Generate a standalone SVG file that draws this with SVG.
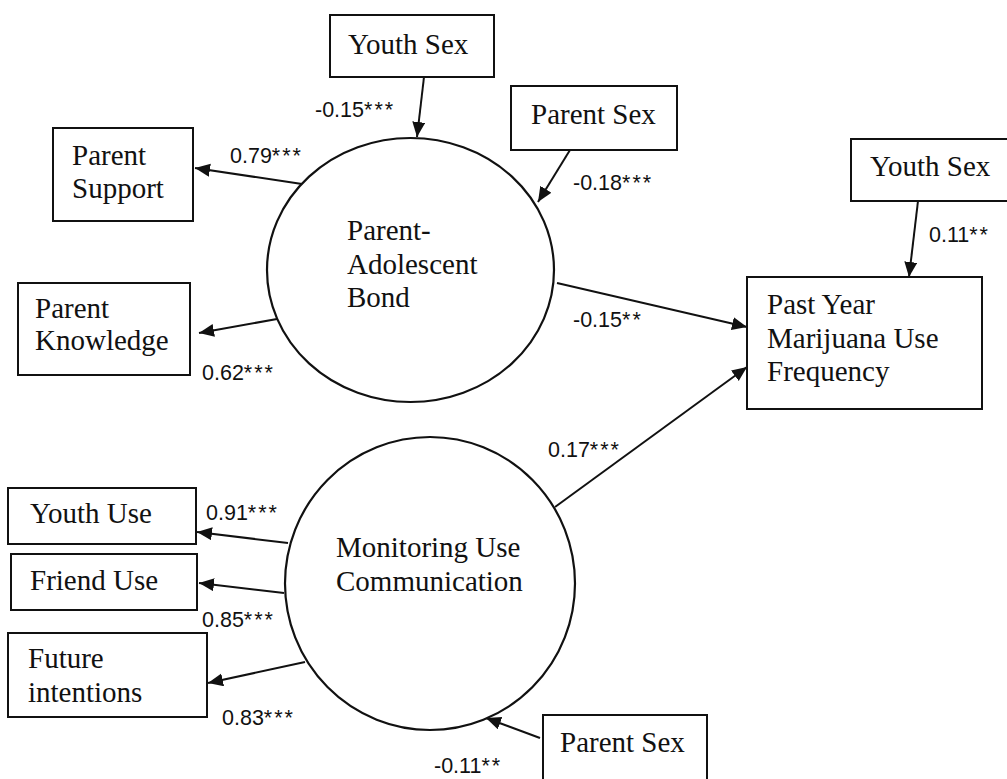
<svg xmlns="http://www.w3.org/2000/svg" width="1007" height="779" viewBox="0 0 1007 779">
  <style>
    .box { fill: #fff; stroke: #111; stroke-width: 2; }
    .latent { fill: #fff; stroke: #111; stroke-width: 2.2; }
    .name { font-family: "Liberation Serif", "Times New Roman", serif; font-size: 29px; fill: #111; }
    .coef { font-family: "Liberation Sans", Arial, sans-serif; font-size: 21.5px; fill: #111; }
    .stars { letter-spacing: 2px; }
    .path { stroke: #111; stroke-width: 2; fill: none; marker-end: url(#head); }
  </style>
  <defs>
    <marker id="head" markerUnits="userSpaceOnUse" markerWidth="16" markerHeight="14" refX="15" refY="6.5" orient="auto">
      <path d="M0,0 L15,6.5 L0,13 Z" fill="#111"/>
    </marker>
  </defs>
  <rect width="1007" height="779" fill="#fff"/>

  <!-- paths between variables -->
  <g id="connectors">
    <line class="path" x1="424" y1="77" x2="417" y2="137"/>
    <line class="path" x1="570" y1="150" x2="538" y2="202"/>
    <line class="path" x1="302" y1="184" x2="195" y2="168"/>
    <line class="path" x1="277" y1="319" x2="199" y2="333"/>
    <line class="path" x1="918" y1="201" x2="909" y2="277"/>
    <line class="path" x1="557" y1="283" x2="747" y2="327"/>
    <line class="path" x1="555" y1="507" x2="747" y2="367"/>
    <line class="path" x1="288" y1="543" x2="197" y2="532"/>
    <line class="path" x1="284" y1="593" x2="199" y2="583"/>
    <line class="path" x1="305" y1="662" x2="208" y2="683"/>
    <line class="path" x1="540" y1="738" x2="486" y2="718"/>
  </g>

  <!-- path coefficients -->
  <g id="coefficients">
    <text class="coef" x="315" y="117">-0.15<tspan class="stars">***</tspan></text>
    <text class="coef" x="573" y="190">-0.18<tspan class="stars">***</tspan></text>
    <text class="coef" x="230" y="163">0.79<tspan class="stars">***</tspan></text>
    <text class="coef" x="202" y="380">0.62<tspan class="stars">***</tspan></text>
    <text class="coef" x="929" y="242">0.11<tspan class="stars">**</tspan></text>
    <text class="coef" x="573" y="327">-0.15<tspan class="stars">**</tspan></text>
    <text class="coef" x="548" y="457">0.17<tspan class="stars">***</tspan></text>
    <text class="coef" x="206" y="520">0.91<tspan class="stars">***</tspan></text>
    <text class="coef" x="202" y="627">0.85<tspan class="stars">***</tspan></text>
    <text class="coef" x="222" y="725">0.83<tspan class="stars">***</tspan></text>
    <text class="coef" x="434" y="773">-0.11<tspan class="stars">**</tspan></text>
  </g>

  <g id="youth-sex-top">
    <rect class="box" x="330" y="15" width="164" height="62"/>
    <text class="name" x="348" y="54">Youth Sex</text>
  </g>

  <g id="parent-sex-top">
    <rect class="box" x="511" y="86" width="166" height="64"/>
    <text class="name" x="531" y="124">Parent Sex</text>
  </g>

  <g id="parent-support">
    <rect class="box" x="53" y="128" width="140" height="93"/>
    <text class="name" x="72" y="165">Parent</text>
    <text class="name" x="72" y="198">Support</text>
  </g>

  <g id="parent-knowledge">
    <rect class="box" x="18" y="283" width="172" height="92"/>
    <text class="name" x="35" y="318">Parent</text>
    <text class="name" x="35" y="350">Knowledge</text>
  </g>

  <g id="parent-adolescent-bond">
    <ellipse class="latent" cx="410.5" cy="270" rx="143.5" ry="132"/>
    <text class="name" x="347" y="240">Parent-</text>
    <text class="name" x="347" y="274">Adolescent</text>
    <text class="name" x="347" y="307">Bond</text>
  </g>

  <g id="youth-sex-right">
    <rect class="box" x="851" y="139" width="160" height="62"/>
    <text class="name" x="870" y="176">Youth Sex</text>
  </g>

  <g id="marijuana-use">
    <rect class="box" x="747" y="277" width="235" height="132"/>
    <text class="name" x="767" y="314">Past Year</text>
    <text class="name" x="767" y="348">Marijuana Use</text>
    <text class="name" x="767" y="381">Frequency</text>
  </g>

  <g id="monitoring-use-communication">
    <ellipse class="latent" cx="430" cy="583.5" rx="145" ry="146.5"/>
    <text class="name" x="336" y="557">Monitoring Use</text>
    <text class="name" x="336" y="591">Communication</text>
  </g>

  <g id="youth-use">
    <rect class="box" x="8" y="488" width="188" height="56"/>
    <text class="name" x="30" y="523">Youth Use</text>
  </g>

  <g id="friend-use">
    <rect class="box" x="11" y="554" width="186" height="56"/>
    <text class="name" x="30" y="590">Friend Use</text>
  </g>

  <g id="future-intentions">
    <rect class="box" x="8" y="633" width="199" height="84"/>
    <text class="name" x="28" y="668">Future</text>
    <text class="name" x="28" y="702">intentions</text>
  </g>

  <g id="parent-sex-bottom">
    <rect class="box" x="543" y="715" width="164" height="70"/>
    <text class="name" x="560" y="752">Parent Sex</text>
  </g>
</svg>
